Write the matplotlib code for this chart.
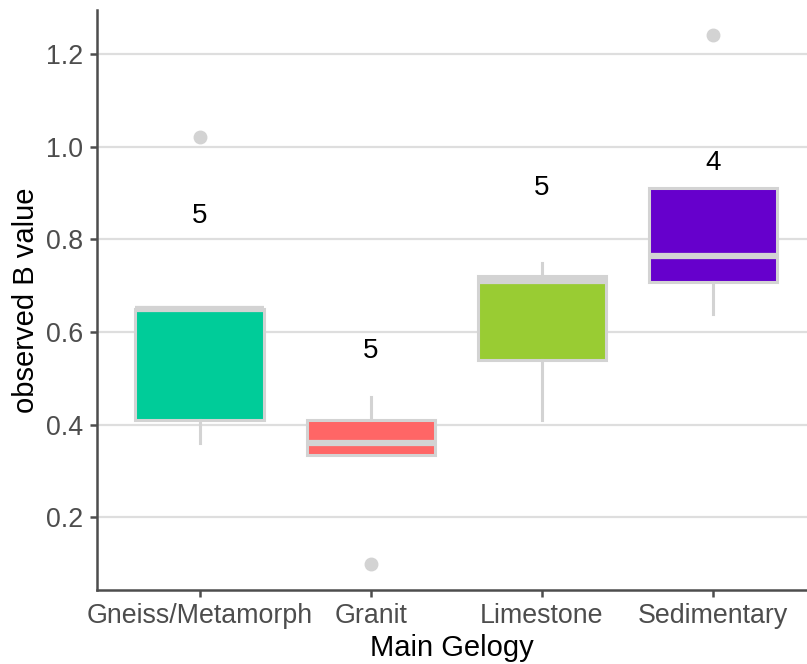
import matplotlib
matplotlib.use("Agg")
import matplotlib.pyplot as plt
import numpy as np

plt.rcParams['font.family'] = ['Liberation Sans', 'DejaVu Sans']

# B values observed per main geology class
categories = ["Gneiss/Metamorph", "Granit", "Limestone", "Sedimentary"]
gneiss = [0.36, 0.41, 0.65, 0.65, 1.02]
granit = [0.10, 0.335, 0.36, 0.41, 0.46]
limestone = [0.41, 0.54, 0.71, 0.72, 0.75]
sedimentary = [0.64, 0.73, 0.80, 1.24]
series = [gneiss, granit, limestone, sedimentary]
fill_colors = ["#00CC99", "#FF6666", "#99CC33", "#6600CC"]

edge = "#D3D3D3"

fig = plt.figure(figsize=(8.07, 6.64), dpi=100)
ax = fig.add_axes([0.1202, 0.1114, 0.8798, 0.8736])

positions = np.arange(1, len(categories) + 1)
bp = ax.boxplot(series, positions=positions, widths=0.75, patch_artist=True,
                whis=1.5, zorder=3,
                boxprops=dict(edgecolor=edge, linewidth=2.2),
                medianprops=dict(color=edge, linewidth=4.5, solid_capstyle="butt"),
                whiskerprops=dict(color=edge, linewidth=2.2),
                capprops=dict(linewidth=0),
                flierprops=dict(marker="o", markerfacecolor=edge, markeredgecolor=edge,
                                markersize=9))
for patch, col in zip(bp["boxes"], fill_colors):
    patch.set_facecolor(col)

# sample counts above each box
for pos, vals in zip(positions, series):
    ax.text(pos, np.median(vals) + 0.2, str(len(vals)), ha="center", va="center",
            fontsize=20, color="black", zorder=4)

ax.set_xlim(0.4, 4.55)
ax.set_ylim(0.0435, 1.295)
ax.set_xticks(positions)
ax.set_xticklabels(categories)
ax.set_yticks([0.2, 0.4, 0.6, 0.8, 1.0, 1.2])
ax.set_yticklabels(["0.2", "0.4", "0.6", "0.8", "1.0", "1.2"])

ax.yaxis.grid(True, color="#DEDEDE", linewidth=1.6, zorder=0)
ax.set_axisbelow(True)

for s in ["top", "right"]:
    ax.spines[s].set_visible(False)
for s in ["left", "bottom"]:
    ax.spines[s].set_color("#4D4D4D")
    ax.spines[s].set_linewidth(1.8)

ax.tick_params(axis="both", colors="#4D4D4D", labelsize=19.3, length=5, width=1.8,
               labelcolor="#4D4D4D")
ax.tick_params(axis="x", pad=4)
ax.tick_params(axis="y", pad=5)

ax.set_xlabel("Main Gelogy", fontsize=21, color="black", labelpad=4)
ax.set_ylabel("observed B value", fontsize=21, color="black", labelpad=4)

fig.savefig("out.png", dpi=100)
